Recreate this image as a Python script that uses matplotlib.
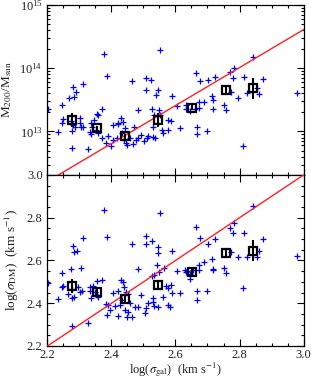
import numpy as np
import matplotlib
matplotlib.use("Agg")
import matplotlib.pyplot as plt
from matplotlib.ticker import MultipleLocator, LogLocator, NullFormatter

plt.rcParams['font.family'] = ['Liberation Serif', 'DejaVu Serif']
plt.rcParams['mathtext.fontset'] = 'stix'

# ---- bottom panel data: log sigma_gal vs log sigma_DM ----
bot_x = [2.2005, 2.2318, 2.2443, 2.2464, 2.2495, 2.2651, 2.2734, 2.2755, 2.2807, 2.2839,
         2.2911, 2.2776, 2.2755, 2.2839, 2.2964, 2.3036, 2.3016, 2.3120, 2.3089, 2.3255,
         2.3339, 2.3339, 2.3349, 2.3432, 2.3484, 2.3536, 2.3536, 2.3589, 2.3693, 2.3776,
         2.3828, 2.3849, 2.3849, 2.3901, 2.3964, 2.4057, 2.4109, 2.4193, 2.4214, 2.4266,
         2.4297, 2.4339, 2.4370, 2.4401, 2.4422, 2.4453, 2.4474, 2.4505, 2.4505, 2.4578,
         2.4651, 2.4651, 2.4734, 2.4818, 2.4818, 2.4922, 2.5047, 2.5078, 2.5078, 2.5078,
         2.5151, 2.5255, 2.5255, 2.5307, 2.5307, 2.5339, 2.5339, 2.5411, 2.5443, 2.5464,
         2.5464, 2.5495, 2.5620, 2.5641, 2.5516, 2.5693, 2.5776, 2.5776, 2.5828, 2.5859,
         2.5880, 2.5901,
         2.6036, 2.6141, 2.6297, 2.6328, 2.6349, 2.6453, 2.6453, 2.6557, 2.6641, 2.6661,
         2.6682, 2.6734, 2.6734, 2.6766, 2.6901, 2.6974, 2.7026, 2.7130, 2.7161, 2.7182,
         2.7234, 2.7526, 2.7578, 2.7703, 2.7734, 2.7786, 2.7839, 2.7943, 2.8099, 2.8141,
         2.8224, 2.8411, 2.8536, 2.8620, 2.8745, 2.9786]
bot_y = [2.4932, 2.4199, 2.5431, 2.4776, 2.4823, 2.4433, 2.5602, 2.4230, 2.6678, 2.6398,
         2.6444, 2.2936, 2.4651, 2.4308, 2.4745, 2.5665, 2.4542, 2.7068, 2.4589, 2.3060,
         2.4776, 2.4573, 2.4230, 2.4807, 2.4542, 2.5057, 2.4386, 2.4308, 2.5088, 2.8363,
         2.3949, 2.7084, 2.3450, 2.3918, 2.3684, 2.4495, 2.3871, 2.3404, 2.4589, 2.3918,
         2.5088, 2.4152, 2.5010, 2.4745, 2.3684, 2.4542, 2.3372, 2.4417, 2.3606, 2.4027,
         2.3372, 2.6772, 2.3809, 2.5587, 2.3840, 2.4386, 2.3559, 2.7146, 2.6756, 2.3762,
         2.3996, 2.6928, 2.5290, 2.4230, 2.4074, 2.5322, 2.3871, 2.5789, 2.3809, 2.6647,
         2.6366, 2.5478, 2.4308, 2.5634, 2.8238, 2.4807, 2.4698, 2.3918, 2.3840, 2.4854,
         2.6460, 2.4495,
         2.5524, 2.4464, 2.5556, 2.5478, 2.5524, 2.5119, 2.5368, 2.5556, 2.7583, 2.4589,
         2.4152, 2.5789, 2.5556, 2.7068, 2.5945, 2.4589, 2.6772, 2.6070, 2.5556, 2.5587,
         2.6990, 2.5634, 2.5431, 2.7505, 2.6413, 2.7302, 2.7739, 2.6148, 2.4729, 2.7271,
         2.6148, 2.8565, 2.6148, 2.6444, 2.7006, 2.6211]

# ---- top panel data: log sigma_gal vs log M200 ----
top_x = [2.2005, 2.2318, 2.2443, 2.2443, 2.2495, 2.2672, 2.2734, 2.2755, 2.2755, 2.2807,
         2.2839, 2.2891, 2.2807, 2.2859, 2.3016, 2.3016, 2.3036, 2.3120, 2.3120, 2.3255,
         2.3328, 2.3349, 2.3349, 2.3380, 2.3464, 2.3516, 2.3557, 2.3589, 2.3589, 2.3693,
         2.3714, 2.3755, 2.3828, 2.3859, 2.3901, 2.3974, 2.4057, 2.4057, 2.4161, 2.4193,
         2.4214, 2.4297, 2.4339, 2.4370, 2.4401, 2.4422, 2.4453, 2.4474, 2.4578, 2.4630,
         2.4682, 2.4714, 2.4755, 2.4818, 2.4818, 2.4922, 2.5026, 2.5068, 2.5078, 2.5099,
         2.5151, 2.5234, 2.5255, 2.5286, 2.5307, 2.5339, 2.5359, 2.5391, 2.5464, 2.5516,
         2.5495, 2.5516, 2.5568, 2.5620, 2.5776, 2.5776, 2.5859, 2.5901,
         2.6036, 2.6141, 2.6328, 2.6328, 2.6453, 2.6609, 2.6641, 2.6661, 2.6682, 2.6734,
         2.6734, 2.6766, 2.6901, 2.6974, 2.7026, 2.7130, 2.7182, 2.7161, 2.7234, 2.7526,
         2.7578, 2.7703, 2.7734, 2.7786, 2.7839, 2.7943, 2.8099, 2.8141, 2.8224, 2.8411,
         2.8536, 2.8620, 2.8745, 2.9786]
top_logm = [13.359, 12.995, 13.411, 13.141, 13.203, 13.526, 13.167, 13.010, 12.734, 13.698,
            13.542, 13.620, 13.099, 13.073, 13.219, 13.141, 13.073, 13.750, 13.073, 12.724,
            12.995, 13.135, 12.958, 13.073, 13.188, 13.031, 13.281, 13.255, 12.969, 12.891,
            13.359, 14.224, 12.813, 13.880, 12.927, 12.776, 13.099, 12.865, 12.891, 13.125,
            13.135, 13.219, 12.969, 13.151, 12.865, 13.057, 12.813, 12.786, 12.891, 13.802,
            12.797, 13.073, 12.865, 13.333, 12.901, 12.943, 12.849, 13.839, 13.661, 12.891,
            12.927, 13.813, 13.359, 12.917, 13.073, 13.266, 12.901, 13.583, 13.661, 14.281,
            13.333, 13.255, 13.021, 12.969, 13.177, 13.031, 13.167, 13.568,
            13.396, 13.057, 13.411, 13.359, 13.318, 13.359, 13.932, 13.073, 12.958, 13.464,
            13.375, 13.792, 13.464, 13.010, 13.813, 13.557, 13.505, 13.349, 13.865, 13.411,
            13.344, 13.943, 13.630, 13.844, 14.010, 13.531, 12.776, 13.865, 13.604, 14.182,
            13.688, 13.594, 13.828, 13.604]

# ---- binned medians ----
bin_x = [2.2756, 2.354, 2.442, 2.546, 2.652, 2.758, 2.841]
bin_logm = [13.177, 13.047, 12.927, 13.177, 13.375, 13.661, 13.683]
bin_logm_err = [0.11, 0.04, 0.04, 0.11, 0.04, 0.065, 0.17]
bin_sdm = [2.481, 2.453, 2.420, 2.484, 2.545, 2.634, 2.646]
bin_sdm_err = [0.033, 0.02, 0.02, 0.02, 0.023, 0.022, 0.048]

# model lines
top_slope, top_icpt = 3.0, 5.61
line_x = [2.2, 3.0]
x_ticks = [2.2, 2.4, 2.6, 2.8, 3.0]
x_ticklabels = ['2.2', '2.4', '2.6', '2.8', '3.0']
y2_ticks = [2.2, 2.4, 2.6, 2.8, 3.0]
y2_ticklabels = ['2.2', '2.4', '2.6', '2.8', '3.0']

fig = plt.figure(figsize=(3.11, 3.79), dpi=100)
ax1 = fig.add_axes([0.1527, 0.5383, 0.8232, 0.4485])
ax2 = fig.add_axes([0.1527, 0.0871, 0.8232, 0.4512])

blue = '#0000ff'
txtc = '#222222'

# top panel
ax1.plot(top_x, 10 ** np.array(top_logm), '+', color=blue, ms=4, mew=0.9, zorder=2)
lx = np.array(line_x)
ax1.plot(lx, 10 ** (top_slope * lx + top_icpt), color='#ff2020', lw=1.0, zorder=3)
bm = np.array(bin_logm); be = np.array(bin_logm_err)
ax1.errorbar(bin_x, 10 ** bm, yerr=[10 ** bm - 10 ** (bm - be), 10 ** (bm + be) - 10 ** bm],
             fmt='none', ecolor='black', elinewidth=1.5, capsize=0, zorder=4)
ax1.plot(bin_x, 10 ** bm, 's', ms=6, mfc='none', mec='black', mew=1.6, zorder=5)
ax1.set_yscale('log')
ax1.set_ylim(2.05e12, 1e15)
ax1.yaxis.set_major_locator(LogLocator(base=10, numticks=10))
ax1.yaxis.set_minor_locator(LogLocator(base=10, subs=np.arange(2, 10), numticks=10))
ax1.yaxis.set_minor_formatter(NullFormatter())
ax1.set_ylabel(r'M$_{200}$/M$_{\rm sun}$', fontsize=9.5, color=txtc, labelpad=4)

# bottom panel
ax2.plot(bot_x, bot_y, '+', color=blue, ms=4, mew=0.9, zorder=2)
ax2.plot(line_x, line_x, color='#ff2020', lw=1.0, zorder=3)
ax2.errorbar(bin_x, bin_sdm, yerr=bin_sdm_err, fmt='none', ecolor='black',
             elinewidth=1.5, capsize=0, zorder=4)
ax2.plot(bin_x, bin_sdm, 's', ms=6, mfc='none', mec='black', mew=1.6, zorder=5)
ax2.set_ylim(2.2, 3.0)
ax2.set_yticks(y2_ticks)
ax2.set_yticklabels(y2_ticklabels)
ax2.yaxis.set_minor_locator(MultipleLocator(0.05))
ax2.set_ylabel(r'log($\sigma_{\rm DM}$)  (km s$^{-1}$)', fontsize=9.5, color=txtc, labelpad=4)
ax2.set_xlabel(r'log($\sigma_{\rm gal}$)  (km s$^{-1}$)', fontsize=9, color=txtc, labelpad=-1)

for ax in (ax1, ax2):
    ax.set_xticks(x_ticks)
    ax.xaxis.set_minor_locator(MultipleLocator(0.05))
    ax.set_xlim(2.2, 3.0)
    ax.tick_params(which='both', direction='in', top=True, right=True, colors='black',
                   labelcolor=txtc, labelsize=9, width=0.8)
    ax.tick_params(which='major', length=5)
    ax.tick_params(which='minor', length=2.5)
    for s in ax.spines.values():
        s.set_linewidth(0.9)
ax1.set_xticklabels([])
ax2.set_xticklabels(x_ticklabels)
ax2.tick_params(axis='x', pad=2.5)

fig.savefig('out.png', dpi=100)
